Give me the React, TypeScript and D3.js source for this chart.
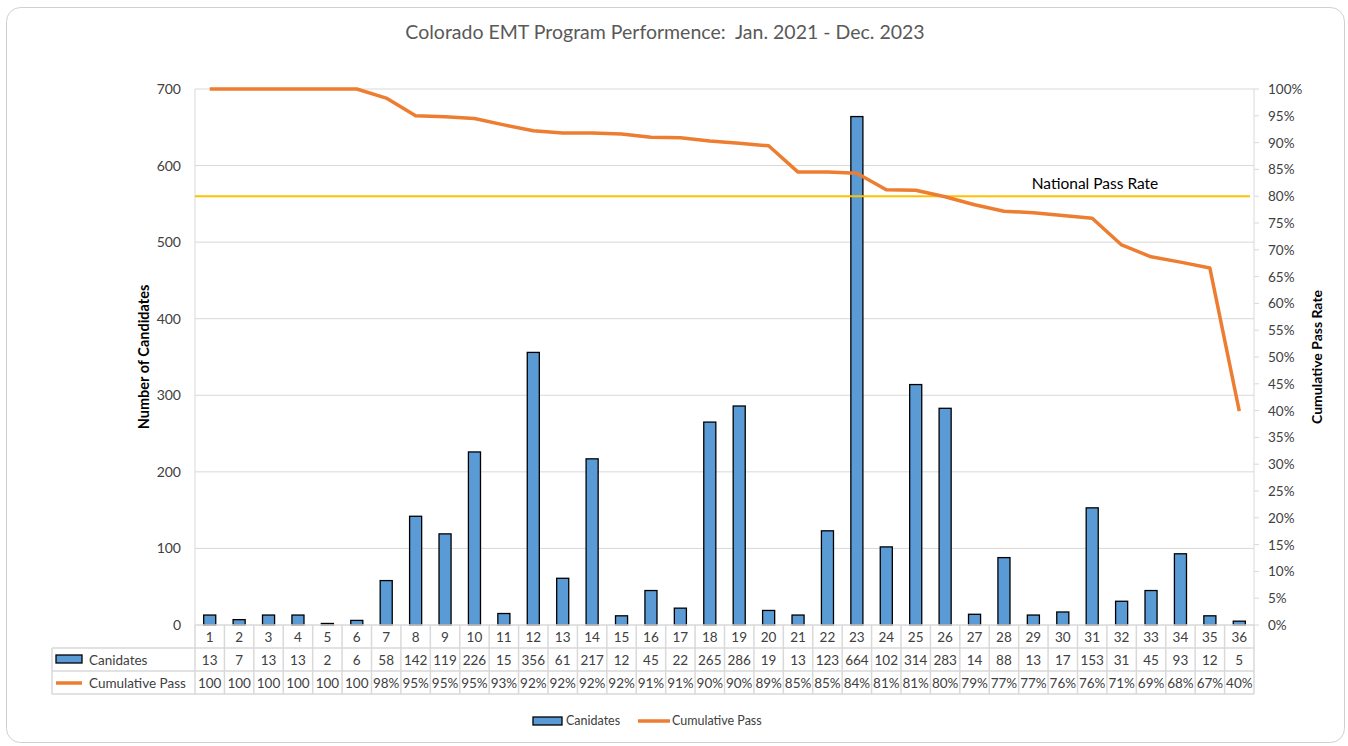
import React from "react"
import * as d3 from "d3"

// данные с картинки
const categories = d3.range(1, 37).map(String)
const candidates = [13, 7, 13, 13, 2, 6, 58, 142, 119, 226, 15, 356, 61, 217, 12, 45, 22, 265, 286, 19, 13, 123, 664, 102, 314, 283, 14, 88, 13, 17, 153, 31, 45, 93, 12, 5]
const cumulativePass = [100, 100, 100, 100, 100, 100, 98.3, 95.0, 94.8, 94.5, 93.3, 92.2, 91.8, 91.8, 91.6, 91.0, 90.9, 90.3, 89.9, 89.4, 84.5, 84.5, 84.3, 81.2, 81.1, 79.9, 78.4, 77.2, 76.9, 76.4, 75.9, 70.9, 68.7, 67.7, 66.6, 39.9]
const passLabels = ["100", "100", "100", "100", "100", "100", "98%", "95%", "95%", "95%", "93%", "92%", "92%", "92%", "92%", "91%", "91%", "90%", "90%", "89%", "85%", "85%", "84%", "81%", "81%", "80%", "79%", "77%", "77%", "76%", "76%", "71%", "69%", "68%", "67%", "40%"]
const leftTicks = [0, 100, 200, 300, 400, 500, 600, 700]
const rightTicks = d3.range(0, 101, 5)
const nationalRate = 80

const title = "Colorado EMT Program Performence:  Jan. 2021 - Dec. 2023"

const W = 1348
const H = 746
const left = 195, right = 1254, top = 89, bottom = 625
const rowH = 23
const font = "Lato, 'Open Sans', sans-serif"
const blue = "#5B9BD5"
const orange = "#ED7D31"
const gold = "#FFC000"
const grid = "#d9d9d9"
const txt = "#404040"

export default function App() {
  const x = d3.scaleBand<string>().domain(categories).range([left, right])
  const yL = d3.scaleLinear().domain([0, 700]).range([bottom, top])
  const yR = d3.scaleLinear().domain([0, 100]).range([bottom, top])
  const bw = x.bandwidth() * 0.41

  const line = d3.line<number>()
    .x((d, i) => x(categories[i])! + x.bandwidth() / 2)
    .y(d => yR(d))

  const rows = [bottom + rowH, bottom + rowH * 2, bottom + rowH * 3]

  return (
    <svg width={W} height={H} style={{ position: "absolute", left: 0, top: 0, fontFamily: font }}>
      <rect x={0} y={0} width={W} height={H} fill="#fff" />
      <rect x={6.5} y={7.5} width={1338} height={735} rx={14} fill="#fff" stroke="#d0d0d0" />

      <text x={665} y={39} textAnchor="middle" fontSize={19.5} fill="#595959" style={{ whiteSpace: "pre" }}>{title}</text>

      {/* сетка */}
      {leftTicks.filter(t => t > 0).map(t => (
        <line key={t} x1={left} x2={right} y1={yL(t)} y2={yL(t)} stroke={grid} strokeWidth={1} />
      ))}

      {/* оси */}
      <line x1={left} x2={left} y1={top} y2={bottom} stroke={grid} />
      <line x1={right} x2={right} y1={top} y2={bottom} stroke={grid} />
      {rightTicks.map(t => (
        <line key={t} x1={right} x2={right + 5} y1={yR(t)} y2={yR(t)} stroke={grid} />
      ))}

      {leftTicks.map(t => (
        <text key={t} x={181} y={yL(t) + 5} textAnchor="end" fontSize={14} fill={txt}>{t}</text>
      ))}
      {rightTicks.map(t => (
        <text key={t} x={1268} y={yR(t) + 5} fontSize={13.5} fill={txt}>{t}%</text>
      ))}

      <text transform={`translate(149,${(top + bottom) / 2}) rotate(-90)`} textAnchor="middle" fontSize={14.5} fontWeight="bold" fill="#000">Number of Candidates</text>
      <text transform={`translate(1322,${(top + bottom) / 2}) rotate(-90)`} textAnchor="middle" fontSize={14} fontWeight="bold" fill="#000">Cumulative Pass Rate</text>

      {/* столбики */}
      {candidates.map((v, i) => (
        <rect key={i}
          x={x(categories[i])! + (x.bandwidth() - bw) / 2}
          y={yL(v)}
          width={bw}
          height={bottom - yL(v)}
          fill={blue} stroke="#000" strokeWidth={1.3} />
      ))}

      {/* национальный уровень */}
      <line x1={left} x2={right - 4} y1={yR(nationalRate)} y2={yR(nationalRate)} stroke={gold} strokeWidth={2} />
      <text x={1095} y={yR(nationalRate) - 7} textAnchor="middle" fontSize={15.5} fill="#000">National Pass Rate</text>

      <path d={line(cumulativePass)!} fill="none" stroke={orange} strokeWidth={3.5} strokeLinejoin="round" />

      {/* таблица данных */}
      <line x1={left} x2={right} y1={bottom} y2={bottom} stroke={grid} strokeWidth={1.5} />
      {rows.map(r => (
        <line key={r} x1={52} x2={right} y1={r} y2={r} stroke={grid} strokeWidth={1.5} />
      ))}
      <line x1={52} x2={52} y1={rows[0]} y2={rows[2]} stroke={grid} strokeWidth={1.5} />
      {categories.map(c => (
        <line key={c} x1={x(c)!} x2={x(c)!} y1={bottom} y2={rows[2]} stroke={grid} strokeWidth={1.5} />
      ))}
      <line x1={right} x2={right} y1={bottom} y2={rows[2]} stroke={grid} strokeWidth={1.5} />

      {categories.map((c, i) => {
        const cx = x(c)! + x.bandwidth() / 2
        return (
          <g key={c} fontSize={13.5} fill={txt} textAnchor="middle">
            <text x={cx} y={bottom + 17}>{c}</text>
            <text x={cx} y={rows[0] + 17}>{candidates[i]}</text>
            <text x={cx} y={rows[1] + 17}>{passLabels[i]}</text>
          </g>
        )
      })}

      <rect x={56} y={655} width={26} height={8} fill={blue} stroke="#000" strokeWidth={1.3} />
      <text x={89} y={rows[0] + 17} fontSize={13.5} fill={txt}>Canidates</text>
      <line x1={56} x2={82} y1={683} y2={683} stroke={orange} strokeWidth={3.5} />
      <text x={89} y={rows[1] + 17} fontSize={13.5} fill={txt}>Cumulative Pass</text>

      {/* легенда */}
      <rect x={533} y={717} width={29} height={8} fill={blue} stroke="#000" strokeWidth={1.3} />
      <text x={566} y={725} fontSize={12.5} fill={txt}>Canidates</text>
      <line x1={638} x2={670} y1={721} y2={721} stroke={orange} strokeWidth={3.5} />
      <text x={672} y={725} fontSize={12.5} fill={txt}>Cumulative Pass</text>
    </svg>
  )
}
